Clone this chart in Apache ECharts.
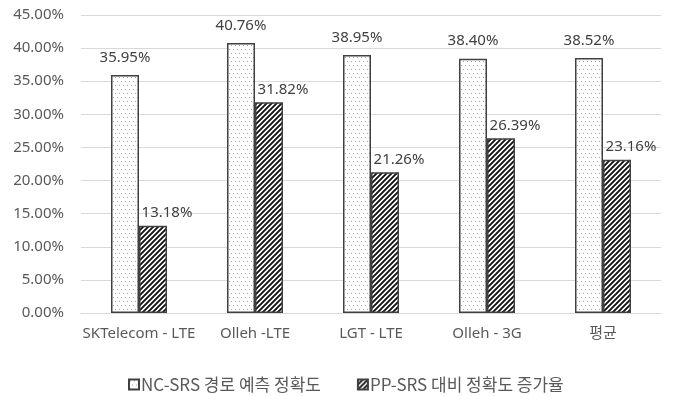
<!DOCTYPE html>
<html><head><meta charset="utf-8">
<script src="https://cdn.jsdelivr.net/npm/echarts@6/dist/echarts.min.js"></script>
<style>html,body{margin:0;padding:0;background:#fff}#c{width:676px;height:396px}</style>
</head><body><div id="c"></div>
<script>
const categories = ['SKTelecom - LTE', 'Olleh -LTE', 'LGT - LTE', 'Olleh - 3G', '평균'];
const ncSrs = [35.95, 40.76, 38.95, 38.40, 38.52];
const ppSrs = [13.18, 31.82, 21.26, 26.39, 23.16];
const seriesNames = ['NC-SRS 경로 예측 정확도', 'PP-SRS 대비 정확도 증가율'];
const yTicks = [0, 5, 10, 15, 20, 25, 30, 35, 40, 45];

function dotPattern() {
  const c = document.createElement('canvas'); c.width = 8; c.height = 8;
  const g = c.getContext('2d');
  g.fillStyle = '#ffffff'; g.fillRect(0, 0, 8, 8);
  g.fillStyle = '#a8a8a8';
  [[1,1],[5,1],[3,5],[7,5]].forEach(p => g.fillRect(p[0], p[1], 1, 1));
  return c;
}
function hatchPattern() {
  const s = 5;
  const c = document.createElement('canvas'); c.width = s; c.height = s;
  const g = c.getContext('2d');
  g.fillStyle = '#ffffff'; g.fillRect(0, 0, s, s);
  g.strokeStyle = '#111'; g.lineWidth = 1.9;
  g.beginPath();
  g.moveTo(-1, s + 1); g.lineTo(s + 1, -1);
  g.moveTo(-1, 1); g.lineTo(1, -1);
  g.moveTo(s - 1, s + 1); g.lineTo(s + 1, s - 1);
  g.stroke();
  return c;
}
const font = '"Noto Sans", "Noto Sans CJK KR", sans-serif';
const chart = echarts.init(document.getElementById('c'));
chart.setOption({
  animation: false,
  textStyle: { fontFamily: font },
  grid: { left: 81, right: 15, top: 15, bottom: 83, containLabel: false },
  legend: {
    top: 371, left: 123, itemWidth: 10, itemHeight: 10, itemGap: 36,
    textStyle: { fontFamily: '"Noto Sans CJK KR", sans-serif', fontSize: 17, color: '#595959', padding: [0,0,0,-3] },
    data: seriesNames.map(n => ({ name: n, icon: 'rect' }))
  },
  xAxis: {
    type: 'category', data: categories,
    axisLine: { lineStyle: { color: '#d9d9d9', width: 1 } },
    axisTick: { show: false },
    axisLabel: { interval: 0, color: '#595959', fontSize: 15, margin: 13, fontFamily: font }
  },
  yAxis: {
    type: 'value', min: yTicks[0], max: yTicks[yTicks.length - 1], interval: 5,
    axisLine: { show: false }, axisTick: { show: false },
    splitLine: { lineStyle: { color: '#d9d9d9', width: 1 } },
    axisLabel: { color: '#595959', fontSize: 15, margin: 17, formatter: v => v.toFixed(2) + '%' }
  },
  series: [
    {
      name: seriesNames[0], type: 'bar', data: ncSrs, barWidth: 28, barGap: '0%',
      itemStyle: { color: { image: dotPattern(), repeat: 'repeat' }, borderColor: '#404040', borderWidth: 1.5 },
      label: { show: true, position: 'top', distance: 10, color: '#404040', fontSize: 15, formatter: p => p.value.toFixed(2) + '%' }
    },
    {
      name: seriesNames[1], type: 'bar', data: ppSrs, barWidth: 28,
      itemStyle: { color: { image: hatchPattern(), repeat: 'repeat' }, borderColor: '#404040', borderWidth: 1.5 },
      label: { show: true, position: 'top', distance: 5, offset: [14, 0], color: '#404040', fontSize: 15, formatter: p => p.value.toFixed(2) + '%' }
    }
  ]
});
</script></body></html>
